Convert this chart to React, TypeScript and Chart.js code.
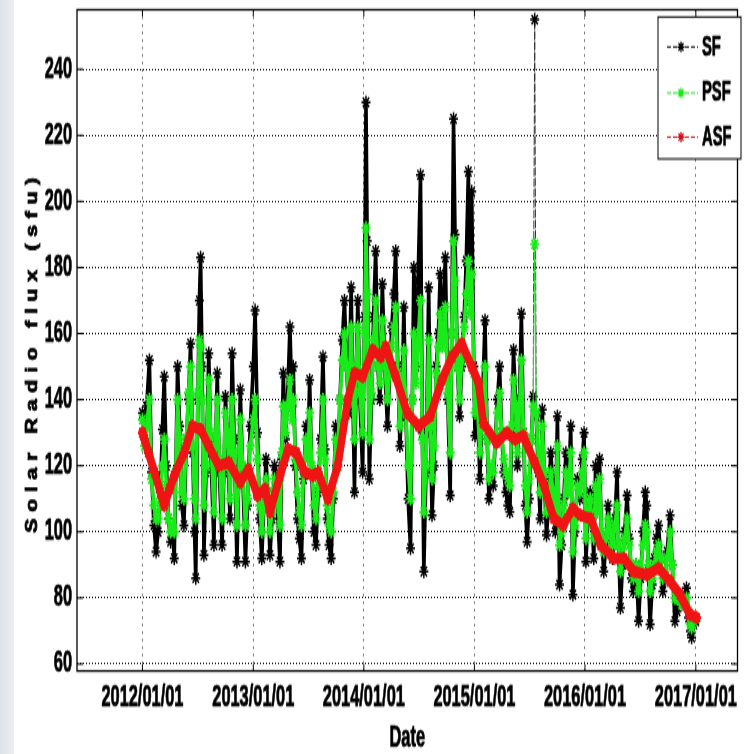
import React, { useEffect, useRef } from "react";
import { Chart, registerables } from "chart.js";

Chart.register(...registerables);

// ---------------- data (x = days since 2012/01/01) ----------------
const X_TICK_DAYS = [0, 366, 731, 1096, 1461, 1827];
const X_TICK_LABELS = ["2012/01/01", "2013/01/01", "2014/01/01", "2015/01/01", "2016/01/01", "2017/01/01"];
const Y_TICKS = [60, 80, 100, 120, 140, 160, 180, 200, 220, 240];

const SF_DAYS = [
  0, 7, 14, 23, 30, 38, 45, 52, 59, 66,
  72, 79, 86, 93, 100, 105, 110, 116, 123, 130,
  137, 145, 152, 159, 166, 172, 176, 183, 188, 192,
  197, 203, 210, 219, 226, 236, 242, 247, 254, 263,
  269, 274, 281, 289, 296, 303, 312, 318, 323, 331,
  340, 347, 356, 366, 372, 380, 387, 394, 401, 408,
  414, 421, 428, 436, 444, 454, 460, 465, 472, 479,
  487, 494, 498, 505, 512, 518, 525, 532, 540, 546,
  552, 559, 566, 573, 580, 588, 596, 603, 610, 616,
  623, 630, 638, 645, 652, 660, 667, 674, 681, 689,
  695, 700, 706, 711, 718, 727, 733, 738, 742, 749,
  756, 763, 770, 777, 784, 792, 800, 809, 816, 823,
  830, 836, 843, 850, 857, 863, 870, 877, 885, 891,
  896, 903, 910, 918, 924, 929, 936, 945, 951, 956,
  963, 970, 977, 983, 990, 1000, 1008, 1016, 1021, 1027,
  1032, 1040, 1047, 1054, 1062, 1069, 1076, 1082, 1087, 1094,
  1098, 1105, 1114, 1121, 1131, 1138, 1144, 1151, 1158, 1165,
  1172, 1179, 1186, 1193, 1200, 1206, 1213, 1219, 1225, 1232,
  1238, 1245, 1251, 1258, 1264, 1270, 1277, 1284, 1290, 1295,
  1300, 1307, 1313, 1320, 1327, 1334, 1341, 1348, 1356, 1363,
  1370, 1377, 1384, 1391, 1398, 1406, 1414, 1421, 1428, 1436,
  1444, 1452, 1458, 1464, 1471, 1478, 1484, 1490, 1496, 1503,
  1509, 1516, 1523, 1530, 1537, 1545, 1552, 1560, 1567, 1572,
  1578, 1585, 1592, 1600, 1607, 1614, 1621, 1630, 1638, 1645,
  1652, 1660, 1665, 1670, 1676, 1683, 1690, 1697, 1704, 1711,
  1718, 1725, 1732, 1742, 1749, 1758, 1765, 1772, 1780, 1789,
  1796, 1803, 1809, 1813, 1820, 1827,
];

const SF = [
  136, 128, 138, 152, 118, 102, 94, 100, 112, 131,
  147, 120, 104, 97, 100, 92, 118, 150, 132, 108,
  102, 128, 140, 157, 124, 100, 86, 140, 170, 183,
  150, 93, 118, 154, 124, 96, 128, 148, 118, 96,
  118, 141, 128, 104, 154, 128, 91, 116, 143, 118,
  91, 108, 132, 150, 167, 130, 104, 92, 108, 122,
  112, 93, 104, 120, 110, 91, 122, 148, 128, 140,
  162, 138, 150, 120, 104, 98, 92, 116, 132, 124,
  146, 118, 100, 96, 112, 128, 153, 125, 104, 96,
  92, 110, 132, 122, 140, 158, 170, 150, 136, 174,
  140, 112, 150, 170, 140, 118, 165, 230, 188, 116,
  140, 165, 185, 150, 140, 175, 150, 132, 148, 162,
  172, 185, 150, 126, 140, 168, 135, 110, 95, 140,
  180, 150, 176, 208, 130, 88, 118, 174, 130, 105,
  120, 150, 160, 178, 158, 183, 140, 111, 160, 225,
  190, 150, 135, 150, 165, 182, 209, 170, 203, 150,
  129, 140, 116, 135, 164, 128, 110, 118, 114, 128,
  140, 150, 130, 118, 112, 108, 106, 130, 155, 140,
  120, 140, 166, 130, 108, 97, 110, 128, 141, 255,
  135, 118, 104, 137, 116, 99, 108, 124, 114, 100,
  135, 84, 96, 110, 124, 112, 132, 81, 100, 116,
  110, 122, 130, 91, 104, 112, 104, 92, 120, 108,
  122, 98, 88, 96, 108, 100, 92, 104, 118, 96,
  77, 90, 100, 111, 98, 86, 82, 90, 73, 86,
  100, 112, 108, 88, 72, 84, 92, 98, 102, 92,
  82, 86, 94, 105, 90, 73, 76, 80, 78, 80,
  83, 74, 70, 68, 72, 73,
];

const PSF = [
  134, 126, 132, 140, 116, 108, 104, 104, 110, 120,
  128, 114, 104, 100, 102, 100, 118, 140, 128, 112,
  110, 128, 142, 150, 126, 110, 104, 142, 158, 156,
  140, 108, 120, 146, 128, 106, 130, 140, 122, 104,
  120, 136, 130, 110, 140, 124, 102, 116, 134, 120,
  102, 110, 126, 134, 140, 122, 108, 100, 108, 116,
  112, 100, 106, 116, 110, 102, 124, 138, 130, 138,
  146, 134, 140, 122, 112, 106, 102, 118, 128, 122,
  136, 120, 108, 104, 114, 124, 140, 122, 108, 102,
  100, 112, 128, 124, 140, 152, 160, 150, 140, 162,
  142, 128, 150, 162, 142, 130, 160, 192, 172, 128,
  142, 158, 170, 150, 145, 164, 150, 140, 148, 156,
  162, 168, 148, 132, 140, 155, 136, 120, 110, 140,
  160, 145, 158, 170, 128, 106, 120, 158, 132, 116,
  126, 148, 156, 166, 156, 168, 142, 124, 160, 188,
  176, 150, 140, 152, 162, 172, 182, 166, 178, 148,
  136, 140, 124, 134, 150, 128, 116, 120, 118, 128,
  136, 142, 130, 122, 118, 116, 114, 132, 146, 138,
  124, 138, 152, 130, 114, 106, 116, 128, 138, 187,
  136, 122, 112, 132, 118, 106, 110, 118, 112, 104,
  126, 96, 100, 108, 118, 112, 124, 94, 102, 114,
  112, 118, 124, 98, 106, 110, 104, 98, 114, 106,
  116, 100, 94, 98, 104, 100, 96, 102, 108, 96,
  88, 92, 98, 104, 96, 90, 86, 90, 82, 88,
  96, 102, 100, 90, 82, 86, 90, 94, 96, 92,
  86, 88, 92, 100, 90, 80, 80, 80, 78, 78,
  80, 76, 72, 71, 73, 74,
];

const ASF_DAYS = [
  0, 20, 40, 72, 90, 105, 138, 165, 192, 219,
  252, 285, 323, 350, 380, 405, 421, 454, 481, 508,
  536, 563, 580, 612, 645, 678, 700, 727, 760, 787,
  803, 836, 874, 912, 950, 989, 1022, 1054, 1087, 1110,
  1125, 1169, 1202, 1229, 1257, 1295, 1326, 1358, 1389, 1420,
  1447, 1480, 1513, 1556, 1589, 1622, 1665, 1704, 1742, 1775,
  1807, 1829,
];
const ASF = [
  130, 124, 118, 108, 113, 117, 124, 132, 131, 126,
  120, 121, 115, 119, 111, 113, 106, 117, 125, 124,
  118, 117, 118, 110, 120, 140, 148, 147, 155, 153,
  156, 147, 136, 132, 135, 146, 153, 157, 150, 145,
  133, 127, 130, 128, 129, 121, 114, 104, 102, 107,
  105, 104, 96, 92, 92, 88, 87, 89, 85, 81,
  75, 74,
];

const SERIES_LABELS = ["SF", "PSF", "ASF"];
const SERIES_COLORS = ["#000000", "rgb(25,235,25)", "rgb(240,20,20)"];

// ---------------- layout (internal canvas coords, stretched vertically) ----------------
const W = 744;
const OUT_H = 754;
const H = 503;
const SY = OUT_H / H;
const FONT = '"Liberation Sans", Arial, Helvetica, sans-serif';
const NARROW_K = 0.82;

function starPath(ctx: CanvasRenderingContext2D, x: number, y: number, r: number) {
  ctx.beginPath();
  for (let k = 0; k < 4; k++) {
    const a = (k * Math.PI) / 4;
    ctx.moveTo(x - r * Math.cos(a), y - r * Math.sin(a));
    ctx.lineTo(x + r * Math.cos(a), y + r * Math.sin(a));
  }
  ctx.stroke();
}

function narrowText(ctx: CanvasRenderingContext2D, text: string, x: number, y: number, align: CanvasTextAlign, size: number) {
  ctx.save();
  ctx.font = `bold ${size}px ${FONT}`;
  ctx.textAlign = align;
  ctx.textBaseline = "middle";
  ctx.fillStyle = "#000";
  ctx.strokeStyle = "#000";
  ctx.lineWidth = 0.6;
  ctx.setLineDash([]);
  ctx.translate(x, y);
  ctx.scale(NARROW_K, 1);
  ctx.fillText(text, 0, 0);
  ctx.strokeText(text, 0, 0);
  ctx.restore();
}

const framePlugin = {
  id: "matlabFrame",
  afterDraw(chart: any) {
    const { ctx, chartArea: a, scales } = chart;
    const xs = scales.x;
    const ys = scales.y;
    ctx.save();
    // box
    ctx.strokeStyle = "#000";
    ctx.lineWidth = 1.3;
    ctx.setLineDash([]);
    ctx.strokeRect(a.left, a.top, a.right - a.left, a.bottom - a.top);
    // inward tick marks
    ctx.lineWidth = 1;
    ctx.beginPath();
    ys.ticks.forEach((t: any) => {
      const y = ys.getPixelForValue(t.value);
      ctx.moveTo(a.left, y); ctx.lineTo(a.left + 6, y);
      ctx.moveTo(a.right, y); ctx.lineTo(a.right - 6, y);
    });
    xs.ticks.forEach((t: any) => {
      const x = xs.getPixelForValue(t.value);
      ctx.moveTo(x, a.bottom); ctx.lineTo(x, a.bottom - 4.5);
      ctx.moveTo(x, a.top); ctx.lineTo(x, a.top + 4.5);
    });
    ctx.stroke();

    // tick labels
    ys.ticks.forEach((t: any) => {
      narrowText(ctx, String(t.value), a.left - 5, ys.getPixelForValue(t.value), "right", 20);
    });
    xs.ticks.forEach((t: any, i: number) => {
      narrowText(ctx, X_TICK_LABELS[i], xs.getPixelForValue(t.value), a.bottom + 18, "center", 20);
    });

    // x title
    narrowText(ctx, "Date", (a.left + a.right) / 2, a.bottom + 45, "center", 20);

    // y title (letter-spaced, rotated)
    const title = "Solar Radio flux (sfu)";
    const k = 0.9;
    const total = 237;
    ctx.font = `bold 16px ${FONT}`;
    const chars = Array.from(title);
    const widths = chars.map((c) => ctx.measureText(c).width * k);
    const sum = widths.reduce((p, q) => p + q, 0);
    const gap = (total - sum) / (chars.length - 1);
    ctx.save();
    ctx.translate(36.5, 237);
    ctx.rotate(-Math.PI / 2);
    ctx.textAlign = "left";
    ctx.textBaseline = "alphabetic";
    ctx.fillStyle = "#000";
    ctx.strokeStyle = "#000";
    ctx.lineWidth = 0.8;
    let u = -total / 2;
    chars.forEach((c, i) => {
      ctx.save();
      ctx.translate(u, 0);
      ctx.scale(k, 1);
      ctx.fillText(c, 0, 0);
      ctx.strokeText(c, 0, 0);
      ctx.restore();
      u += widths[i] + gap;
    });
    ctx.restore();

    // legend
    const lx = 658, ly = 11.3, lw = 83, lh = 94.7;
    ctx.fillStyle = "#fff";
    ctx.fillRect(lx, ly, lw, lh);
    ctx.strokeStyle = "#000";
    ctx.lineWidth = 1;
    ctx.strokeRect(lx, ly, lw, lh);
    const rows = [31.3, 62, 91.4];
    chart.data.datasets.forEach((ds: any, i: number) => {
      const y = rows[i];
      const col = i === 2 ? "rgb(200,20,30)" : ds.pointBorderColor;
      ctx.strokeStyle = col;
      ctx.lineWidth = 1;
      ctx.setLineDash([4, 2]);
      ctx.beginPath();
      ctx.moveTo(667, y); ctx.lineTo(698, y);
      ctx.stroke();
      ctx.setLineDash([]);
      ctx.lineWidth = 1.3;
      starPath(ctx, 681, y, 3.5);
      narrowText(ctx, ds.label, 702, y + 0.5, "left", 18);
    });
    ctx.restore();
  },
};

// segments with a very fast jump (one-day spikes) are drawn as the thin dashed line
const spikeSeg = (limit: number) => (c: any) =>
  Math.abs(c.p1.parsed.y - c.p0.parsed.y) / Math.max(1, c.p1.parsed.x - c.p0.parsed.x) > limit;

export default function App() {
  const ref = useRef<HTMLCanvasElement | null>(null);

  useEffect(() => {
    const canvas = ref.current;
    if (!canvas) return;
    const sfData = SF_DAYS.map((d, i) => ({ x: d, y: SF[i] }));
    const psfData = SF_DAYS.map((d, i) => ({ x: d, y: PSF[i] }));
    const asfData = ASF_DAYS.map((d, i) => ({ x: d, y: ASF[i] }));
    const sfSpike = spikeSeg(15);
    const psfSpike = spikeSeg(8);
    const chart = new Chart(canvas, {
      type: "line",
      data: {
        datasets: [
          {
            label: SERIES_LABELS[0],
            data: sfData,
            borderColor: SERIES_COLORS[0],
            borderWidth: 3.6,
            borderJoinStyle: "round",
            borderCapStyle: "round",
            segment: {
              borderWidth: (c: any) => (sfSpike(c) ? 1 : undefined),
              borderDash: (c: any) => (sfSpike(c) ? [5, 2] : undefined),
              borderColor: (c: any) => (sfSpike(c) ? "#333" : undefined),
            },
            pointStyle: "star",
            pointRadius: 4.5,
            pointBorderWidth: 1.5,
            pointBorderColor: SERIES_COLORS[0],
            pointBackgroundColor: SERIES_COLORS[0],
            tension: 0,
            order: 3,
          },
          {
            label: SERIES_LABELS[1],
            data: psfData,
            borderColor: SERIES_COLORS[1],
            borderWidth: 3.6,
            borderJoinStyle: "round",
            borderCapStyle: "round",
            segment: {
              borderWidth: (c: any) => (psfSpike(c) ? 1 : undefined),
            },
            pointStyle: "star",
            pointRadius: 4.5,
            pointBorderWidth: 1.7,
            pointBorderColor: SERIES_COLORS[1],
            pointBackgroundColor: SERIES_COLORS[1],
            tension: 0,
            order: 2,
          },
          {
            label: SERIES_LABELS[2],
            data: asfData,
            borderColor: SERIES_COLORS[2],
            borderWidth: 7.5,
            borderJoinStyle: "round",
            borderCapStyle: "round",
            pointStyle: "star",
            pointRadius: 4.5,
            pointBorderWidth: 2,
            pointBorderColor: SERIES_COLORS[2],
            pointBackgroundColor: SERIES_COLORS[2],
            tension: 0,
            order: 1,
          },
        ],
      },
      options: {
        responsive: false,
        maintainAspectRatio: false,
        animation: false,
        devicePixelRatio: 1,
        events: [],
        layout: { padding: { left: 77, right: 1, top: 4, bottom: 55.4 } },
        plugins: { legend: { display: false }, tooltip: { enabled: false } },
        scales: {
          x: {
            type: "linear",
            min: -216,
            max: 1964.5,
            afterBuildTicks: (axis: any) => {
              axis.ticks = X_TICK_DAYS.map((v) => ({ value: v }));
            },
            afterFit: (axis: any) => { axis.height = 0; },
            ticks: { display: false },
            grid: { color: "#000", lineWidth: 1, drawTicks: false },
            border: { display: false, dash: [1, 4] },
          },
          y: {
            type: "linear",
            min: 57.9,
            max: 258,
            afterBuildTicks: (axis: any) => {
              axis.ticks = Y_TICKS.map((v) => ({ value: v }));
            },
            afterFit: (axis: any) => { axis.width = 0; },
            ticks: { display: false },
            grid: { color: "#000", lineWidth: 1, drawTicks: false },
            border: { display: false, dash: [1, 2] },
          },
        },
      },
      plugins: [framePlugin],
    } as any);
    return () => chart.destroy();
  }, []);

  return (
    <div style={{ position: "absolute", left: 0, top: 0, width: W, height: OUT_H, overflow: "hidden", background: "#fff" }}>
      <div
        style={{
          position: "absolute", left: 0, top: 0, width: 14, height: OUT_H,
          background: "linear-gradient(to right, #dde2e8, #eceff2)",
        }}
      />
      <div
        style={{
          position: "absolute", left: 0, top: 0, width: W, height: H,
          transform: `scaleY(${SY})`, transformOrigin: "0 0",
        }}
      >
        <canvas ref={ref} width={W} height={H} style={{ display: "block", width: W, height: H }} />
      </div>
    </div>
  );
}
